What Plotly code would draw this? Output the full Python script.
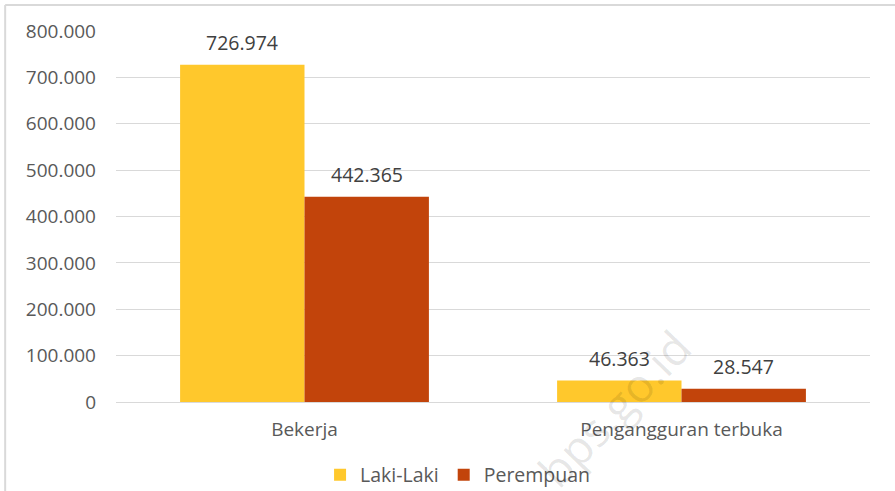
import plotly.graph_objects as go

categories = ["Bekerja", "Pengangguran terbuka"]
laki_laki = [726974, 46363]
perempuan = [442365, 28547]
tick_vals = [0, 100000, 200000, 300000, 400000, 500000, 600000, 700000, 800000]

FONT = "Open Sans"
GREY = "#595959"
W, H = 895, 491
ML, MR, MT, MB = 116, 25, 31, 89
BARGAP = 0.34

fig = go.Figure()
fig.add_trace(go.Bar(x=categories, y=laki_laki, name="Laki-Laki",
                     marker=dict(color="#FFC82C", line=dict(width=0))))
fig.add_trace(go.Bar(x=categories, y=perempuan, name="Perempuan",
                     marker=dict(color="#C2440B", line=dict(width=0))))

# data labels sitting a bit above each bar
slot = (W - ML - MR) / len(categories)
bar_w = slot * (1 - BARGAP) / 2
for series, shift in ((laki_laki, -bar_w / 2), (perempuan, bar_w / 2)):
    for cat, val in zip(categories, series):
        fig.add_annotation(x=cat, y=val, text=f"{val:,}".replace(",", "."),
                           showarrow=False, yanchor="bottom", xshift=shift, yshift=7,
                           font=dict(size=19.5, color="#404040", family=FONT))

fig.update_layout(
    width=W, height=H,
    margin=dict(l=ML, r=MR, t=MT, b=MB, autoexpand=False),
    paper_bgcolor="white", plot_bgcolor="white",
    separators=",.",
    barmode="group", bargap=BARGAP, bargroupgap=0,
    font=dict(family=FONT, size=19, color=GREY),
    showlegend=True,
    legend=dict(orientation="h", x=0.453, xanchor="center", y=-0.197, yanchor="middle",
                bgcolor="rgba(0,0,0,0)",
                font=dict(size=19.5, color=GREY), traceorder="normal"),
)
fig.update_xaxes(showline=False, showgrid=False, ticks="", ticklabelstandoff=14,
                 automargin=False, tickfont=dict(size=19, color=GREY))
fig.update_yaxes(range=[0, 800000], tickvals=tick_vals, tickformat=",.0f",
                 showgrid=True, gridcolor="#D9D9D9", gridwidth=1,
                 zeroline=True, zerolinecolor="#D9D9D9", zerolinewidth=1,
                 showline=False, ticks="", ticklabelstandoff=19, automargin=False,
                 tickfont=dict(size=19, color=GREY))

# chart border (top and left edges visible in the crop)
fig.add_shape(type="line", xref="paper", yref="paper", x0=-0.147, x1=1.05, y0=1.070, y1=1.070,
              line=dict(color="#D9D9D9", width=2))
fig.add_shape(type="line", xref="paper", yref="paper", x0=-0.147, x1=-0.147, y0=-0.3, y1=1.070,
              line=dict(color="#D9D9D9", width=2))

# faint watermark
fig.add_annotation(text="bps.go.id", xref="paper", yref="paper", x=0.66, y=-0.015,
                   xanchor="center", yanchor="middle",
                   showarrow=False, textangle=-46,
                   font=dict(size=46, color="rgba(0,0,0,0.1)", family=FONT))

fig.write_html("out.html", config={"displayModeBar": False},
               post_script="document.body.style.margin='0';")
